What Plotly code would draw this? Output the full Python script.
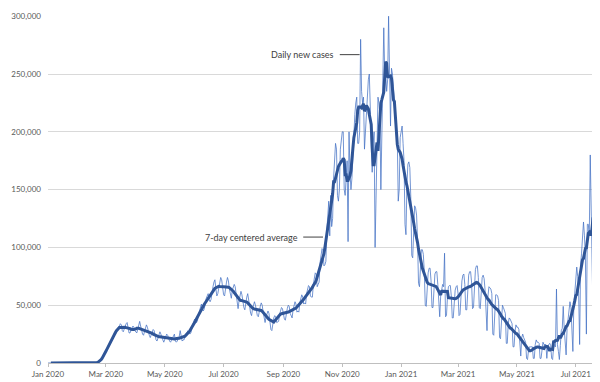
import plotly.graph_objects as go
import pandas as pd

# ---------------- data ----------------
start_date = "2020-01-01"

# daily new cases, in thousands, one row per week starting at start_date
daily_new_cases_k = [
    0, 0, 0, 0, 0, 0, 0,
    0, 0, 0, 0, 0, 0, 0,
    0, 0, 0, 0, 0, 0, 0,
    0, 0, 0, 0, 0, 0, 0,
    0, 0, 0, 0, 0, 0, 0,
    0, 0, 0, 0, 0, 0, 0,
    0, 0, 0, 0, 0, 0, 0,
    0, 0.1, 0.2, 0.4, 0.8, 1.5, 2.5,
    3.5, 5, 6.5, 8, 10, 12, 14,
    16, 16, 19, 21, 22, 25, 26,
    25, 27, 30, 31, 32, 34, 33,
    28, 27, 30, 32, 34, 35, 30,
    26, 26, 29, 30, 32, 31, 28,
    27, 26, 29, 33, 36, 32, 27,
    25, 24, 27, 30, 33, 31, 26,
    24, 22, 25, 28, 29, 28, 23,
    20, 19, 22, 25, 27, 25, 21,
    20, 18, 21, 23, 25, 24, 20,
    19, 18, 20, 22, 23, 25, 19,
    18, 19, 21, 23, 28, 22, 19,
    20, 20, 23, 25, 27, 28, 26,
    25, 26, 30, 33, 36, 38, 35,
    35, 37, 42, 46, 48, 51, 46,
    45, 47, 53, 56, 58, 60, 55,
    53, 55, 62, 66, 70, 72, 64,
    58, 60, 66, 70, 74, 72, 63,
    59, 58, 66, 70, 74, 71, 64,
    58, 56, 63, 66, 68, 66, 58,
    49, 47, 54, 58, 62, 59, 51,
    48, 46, 53, 57, 60, 56, 49,
    43, 41, 47, 50, 53, 50, 44,
    41, 40, 46, 49, 52, 50, 44,
    37, 35, 40, 43, 45, 43, 36,
    29, 28, 36, 39, 41, 40, 35,
    36, 36, 42, 46, 48, 47, 41,
    38, 37, 43, 47, 50, 49, 43,
    40, 39, 46, 50, 53, 51, 44,
    45, 44, 52, 56, 59, 57, 51,
    52, 51, 60, 64, 67, 66, 58,
    57, 57, 68, 74, 78, 77, 66,
    68, 70, 87, 93, 99, 98, 84,
    85, 88, 115, 130, 140, 110, 145,
    118, 125, 160, 175, 190, 185, 145,
    140, 150, 185, 195, 200, 200, 150,
    145, 165, 175, 105, 200, 165, 150,
    160, 180, 205, 215, 225, 230, 190,
    190, 200, 280, 235, 225, 230, 185,
    200, 215, 235, 245, 250, 215, 180,
    165, 190, 200, 100, 150, 215, 230,
    225, 215, 150, 210, 255, 290, 250,
    250, 235, 245, 300, 245, 205, 255,
    250, 239, 230, 215, 200, 195, 140,
    150, 195, 200, 205, 190, 175, 120,
    111, 154, 172, 174, 169, 144, 93,
    91, 124, 136, 134, 128, 107, 69,
    66, 89, 98, 98, 94, 79, 50,
    49, 69, 78, 82, 82, 71, 48,
    48, 67, 77, 79, 79, 68, 46,
    40, 58, 66, 68, 66, 95, 40,
    41, 57, 66, 67, 67, 58, 39,
    39, 55, 63, 66, 67, 60, 41,
    42, 61, 71, 76, 77, 68, 46,
    46, 65, 76, 79, 79, 70, 47,
    48, 69, 81, 84, 84, 74, 48,
    47, 65, 74, 76, 73, 63, 41,
    28, 58, 66, 65, 64, 60, 25,
    24, 50, 59, 59, 58, 54, 22,
    21, 43, 50, 48, 46, 43, 17,
    17, 34, 39, 38, 36, 34, 14,
    14, 27, 33, 31, 31, 29, 12,
    6, 22, 25, 22, 20, 18, 4,
    3, 11, 14, 14, 14, 14, 4,
    4, 16, 20, 18, 18, 17, 4,
    4, 14, 18, 16, 16, 16, 4,
    15, 16, 17, 15, 4, 3, 14,
    15, 14, 64, 16, 10, 3, 15,
    28, 30, 49, 30, 20, 7, 30,
    40, 45, 53, 48, 30, 10, 50,
    60, 70, 83, 75, 60, 16, 85,
    95, 107, 122, 110, 90, 25, 120,
    120, 110, 180, 140, 95, 36, 90,
    179, 162,
]

series_names = ["Daily new cases", "7-day centered average"]

x_tick_dates = ["2020-01-01", "2020-03-01", "2020-05-01", "2020-07-01", "2020-09-01",
                "2020-11-01", "2021-01-01", "2021-03-01", "2021-05-01", "2021-07-01"]
x_tick_labels = ["Jan 2020", "Mar 2020", "May 2020", "Jul 2020", "Sep 2020",
                 "Nov 2020", "Jan 2021", "Mar 2021", "May 2021", "Jul 2021"]
y_tick_values = [0, 50000, 100000, 150000, 200000, 250000, 300000]
y_tick_labels = ["0", "50,000", "100,000", "150,000", "200,000", "250,000", "300,000"]

# ---------------- derived ----------------
dates = pd.date_range(start_date, periods=len(daily_new_cases_k), freq="D")
daily = pd.Series([v * 1000 for v in daily_new_cases_k], index=dates)
centered_avg = daily.rolling(7, center=True).mean()

FONT = "Lato, 'Open Sans', sans-serif"

fig = go.Figure()
fig.add_trace(go.Scatter(
    x=dates, y=daily.values, mode="lines", name=series_names[0],
    line=dict(color="rgba(68,114,196,0.75)", width=1),
))
fig.add_trace(go.Scatter(
    x=dates, y=centered_avg.values, mode="lines", name=series_names[1],
    line=dict(color="#2F5597", width=3),
))

# the page body has an 8px margin: size the figure to fill the rest of the window
fig.update_layout(
    width=592, height=374,
    margin=dict(l=34, r=3, t=4, b=12),
    plot_bgcolor="white", paper_bgcolor="white",
    showlegend=False,
    font=dict(family=FONT, size=8, color="#595959"),
    xaxis=dict(
        type="date",
        range=["2020-01-01", "2021-07-23"],
        tickvals=x_tick_dates, ticktext=x_tick_labels,
        ticks="outside", ticklen=3, tickcolor="#BFBFBF",
        showline=True, linecolor="#BFBFBF", linewidth=1,
        showgrid=False, zeroline=False,
        ticklabeloverflow="allow",
        tickfont=dict(family=FONT, size=8, color="#595959"),
    ),
    yaxis=dict(
        range=[0, 300200],
        tickvals=y_tick_values, ticktext=y_tick_labels,
        showgrid=True, gridcolor="#D9D9D9", gridwidth=1,
        zeroline=False, showline=False, ticks="",
        ticklabeloverflow="allow", ticklabelstandoff=6,
        tickfont=dict(family=FONT, size=8, color="#595959"),
    ),
)

# series labels with leader lines
ann_font = dict(family=FONT, size=9, color="#404040")
fig.add_annotation(x=0.5243, y=0.8886, xref="paper", yref="paper", text=series_names[0],
                   showarrow=False, xanchor="right", yanchor="middle", font=ann_font)
fig.add_shape(type="line", xref="paper", yref="paper", x0=0.5315, x1=0.5676,
              y0=0.8886, y1=0.8886, line=dict(color="#404040", width=1))
fig.add_annotation(x=0.4595, y=0.3629, xref="paper", yref="paper", text=series_names[1],
                   showarrow=False, xanchor="right", yanchor="middle", font=ann_font)
fig.add_shape(type="line", xref="paper", yref="paper", x0=0.4649, x1=0.5009,
              y0=0.3629, y1=0.3629, line=dict(color="#404040", width=1))

fig.write_html("out.html")
